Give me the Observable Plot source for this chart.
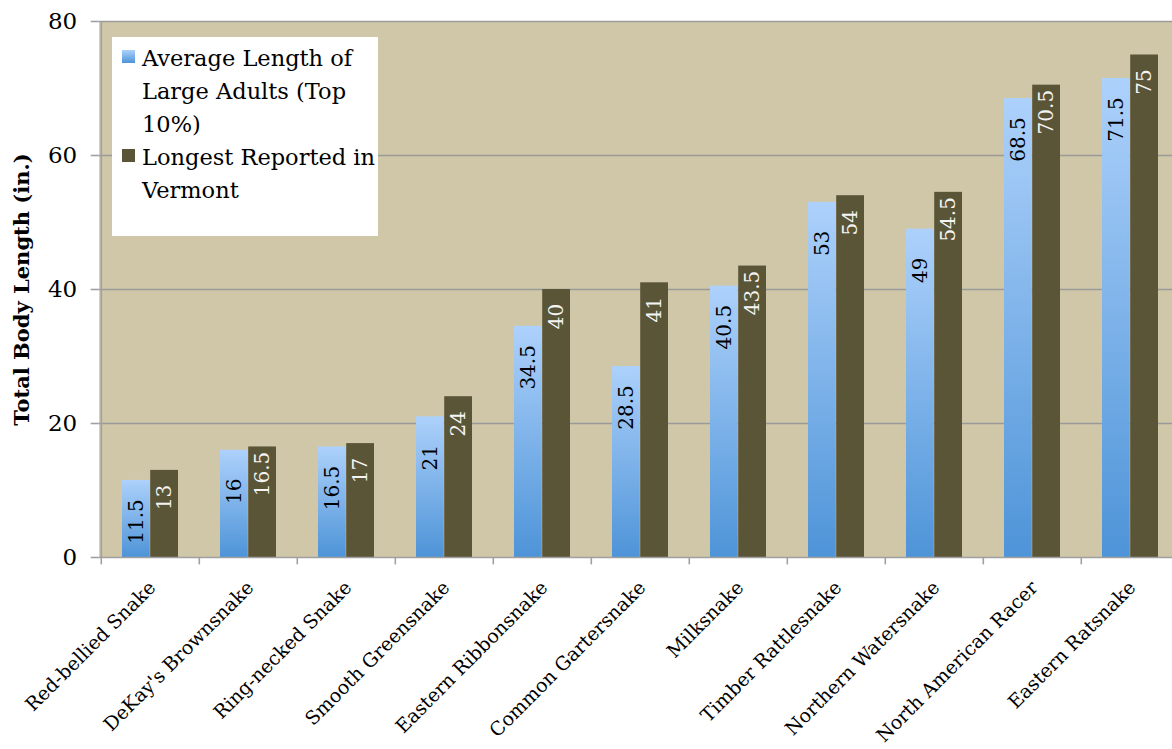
<!DOCTYPE html>
<html>
<head>
<meta charset="utf-8">
<script src="https://cdn.jsdelivr.net/npm/d3@7"></script>
<script src="https://cdn.jsdelivr.net/npm/@observablehq/plot@0.6"></script>
<style>
  html, body { margin: 0; padding: 0; background: #fff; overflow: hidden; }
  #wrap { position: relative; width: 1172px; height: 749px; }
  #legend {
    position: absolute; left: 112px; top: 37px; width: 266px; height: 199px;
    background: #fff; box-sizing: border-box; padding: 5px 0 0 10px;
    font-family: "DejaVu Serif", serif; font-size: 22.5px; line-height: 33px; color: #000;
  }
  .item { display: flex; align-items: flex-start; }
  .sw { width: 13px; height: 13px; margin-top: 8px; margin-right: 7px; flex: none; }
  .lbl { width: 245px; }
</style>
</head>
<body>
<div id="wrap"></div>
<script>
const species = ["Red-bellied Snake", "DeKay's Brownsnake", "Ring-necked Snake", "Smooth Greensnake",
  "Eastern Ribbonsnake", "Common Gartersnake", "Milksnake", "Timber Rattlesnake",
  "Northern Watersnake", "North American Racer", "Eastern Ratsnake"];
const avgLarge = [11.5, 16, 16.5, 21, 34.5, 28.5, 40.5, 53, 49, 68.5, 71.5];
const longestVT = [13, 16.5, 17, 24, 40, 41, 43.5, 54, 54.5, 70.5, 75];
const seriesNames = ["Average Length of Large Adults (Top 10%)", "Longest Reported in Vermont"];
const yTicks = [0, 20, 40, 60, 80];
const yTitle = "Total Body Length (in.)";

const rows = species.map((s, i) => ({species: s, avg: avgLarge[i], longest: longestVT[i]}));
const half = 28.2;
const axisGray = "#a0a0a0";

const chart = Plot.plot({
  width: 1172,
  height: 749,
  marginLeft: 98.7,
  marginRight: -9,
  marginTop: 21,
  marginBottom: 192,
  style: {fontFamily: "DejaVu Serif, serif", fontSize: "22px", background: "transparent", color: "#000"},
  x: {domain: species, paddingInner: 0.427, paddingOuter: 0.2135, axis: null},
  y: {domain: [0, 80], axis: null},
  marks: [
    Plot.frame({fill: "#D0C7A9", stroke: null}),
    Plot.gridY(yTicks.filter(d => d > 0), {stroke: "#9a9a9a", strokeOpacity: 1, strokeWidth: 1.6}),
    Plot.barY(rows, {x: "species", y: "avg", insetRight: half, fill: "url(#blueGrad)",
      style: "filter: drop-shadow(1px 1px 1px rgba(0,0,0,0.25))"}),
    Plot.barY(rows, {x: "species", y: "longest", insetLeft: half, fill: "#5B5538",
      style: "filter: drop-shadow(1px 1px 1px rgba(0,0,0,0.25))"}),
    Plot.text(rows, {x: "species", y: "avg", text: d => String(d.avg), rotate: -90,
      textAnchor: "middle", lineAnchor: "middle", dx: -14.1, dy: 41, fill: "#000", fontSize: 20}),
    Plot.text(rows, {x: "species", y: "longest", text: d => String(d.longest), rotate: -90,
      textAnchor: "middle", lineAnchor: "middle", dx: 14.1, dy: 27, fill: "#f4f4f4", fontSize: 20}),
    Plot.ruleY([0], {stroke: axisGray, strokeWidth: 1.6}),
    Plot.ruleX([species[0]], {x: d => d, dx: -49.2, y1: 80, y2: 0, stroke: axisGray, strokeWidth: 1.6}),
    Plot.axisY({ticks: yTicks, tickSize: 8, tickPadding: 14, stroke: axisGray, strokeWidth: 1.6,
      fontSize: 23, fill: "#000"}),
    Plot.ruleX(species, {x: d => d, dx: -49.2, y1: 0, y2: -1.1, stroke: axisGray, strokeWidth: 1.6}),
    Plot.text(species, {x: d => d, frameAnchor: "bottom", rotate: -45, textAnchor: "end",
      lineAnchor: "middle", dx: 2, dy: 27, fontSize: 19, fill: "#000"}),
    Plot.text([yTitle], {frameAnchor: "left", rotate: -90, textAnchor: "middle", dx: -77,
      fontWeight: "bold", fontSize: 21, fill: "#000"})
  ]
});

const ns = "http://www.w3.org/2000/svg";
const defs = document.createElementNS(ns, "defs");
defs.innerHTML = '<linearGradient id="blueGrad" x1="0" y1="0" x2="0" y2="1">' +
  '<stop offset="0" stop-color="#ADD1FB"/><stop offset="1" stop-color="#4E94D8"/></linearGradient>';
chart.insertBefore(defs, chart.firstChild);

const wrap = document.getElementById("wrap");
wrap.appendChild(chart);

const legend = document.createElement("div");
legend.id = "legend";
const swatches = ["linear-gradient(#ADD1FB, #4E94D8)", "#5B5538"];
seriesNames.forEach((name, i) => {
  const item = document.createElement("div");
  item.className = "item";
  const sw = document.createElement("div");
  sw.className = "sw";
  sw.style.background = swatches[i];
  const lbl = document.createElement("div");
  lbl.className = "lbl";
  lbl.textContent = name;
  item.appendChild(sw);
  item.appendChild(lbl);
  legend.appendChild(item);
});
wrap.appendChild(legend);
</script>
</body>
</html>
